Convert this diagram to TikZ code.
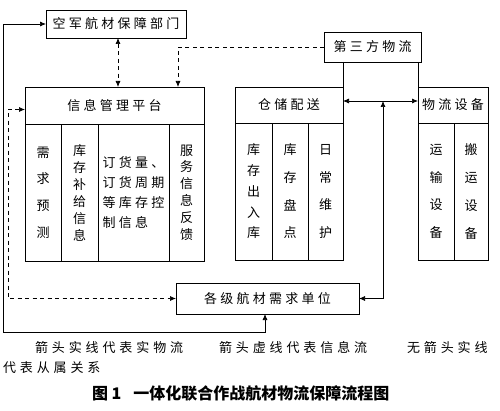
\documentclass[tikz,border=0pt]{standalone}
\usepackage{fontspec}
\usetikzlibrary{arrows.meta}
\newfontfamily\cjk[LetterSpace=25]{Noto Sans CJK SC}
\newfontfamily\cjkl[LetterSpace=30]{Noto Sans CJK SC}
\newfontfamily\cjkv{Noto Sans CJK SC}
\begin{document}
\begin{tikzpicture}[x=1pt,y=-1pt,
  every node/.style={inner sep=0pt, outer sep=0pt},
  boxfr/.style={draw, line width=0.7pt, anchor=north west},
  lbl/.style={font=\cjk\fontsize{13}{16}\selectfont},
  vert/.style={align=center, font=\cjkv\fontsize{13}{#1}\selectfont},
  legend/.style={anchor=west, font=\cjkl\fontsize{13}{16}\selectfont},
  ln/.style={line width=0.7pt},
  arr/.style={-{Latex[length=6pt,width=5pt]}},
  arrtwo/.style={{Latex[length=6pt,width=5pt]}-{Latex[length=6pt,width=5pt]}},
  dsh/.style={dash pattern=on 4pt off 3.5pt}
]
\useasboundingbox (0,0) rectangle (500,411);

% top boxes
\node[boxfr, lbl, minimum width=140pt, minimum height=28pt] (top) at (46,10) {空军航材保障部门};
\node[boxfr, lbl, minimum width=97pt, minimum height=30pt] (third) at (324,32) {第三方物流};

% information platform
\node[boxfr, lbl, minimum width=179pt, minimum height=37pt] (infohead) at (25,87) {信息管理平台};
\node[boxfr, vert=26.7, minimum width=36pt, minimum height=137pt] (ic1) at (25,124) {需\\求\\预\\测};
\node[boxfr, vert=17, minimum width=37pt, minimum height=137pt] (ic2) at (61,124) {库\\存\\补\\给\\信\\息};
\node[boxfr, align=left, font=\cjk\fontsize{13}{19.7}\selectfont, minimum width=71pt, minimum height=137pt] (ic3) at (98,124) {订货量、\\订货周期\\等库存控\\制信息};
\node[boxfr, vert=16.8, minimum width=35pt, minimum height=137pt] (ic4) at (169,124) {服\\务\\信\\息\\反\\馈};

% warehouse
\node[boxfr, lbl, minimum width=108pt, minimum height=36pt] (whhead) at (235,87) {仓储配送};
\node[boxfr, vert=20.75, minimum width=37pt, minimum height=137pt] (wc1) at (235,123) {库\\存\\出\\入\\库};
\node[boxfr, vert=27.7, minimum width=36pt, minimum height=137pt] (wc2) at (272,123) {库\\存\\盘\\点};
\node[boxfr, vert=27.7, minimum width=35pt, minimum height=137pt] (wc3) at (308,123) {日\\常\\维\\护};

% logistics equipment
\node[boxfr, lbl, minimum width=70pt, minimum height=36pt] (loghead) at (418,87) {物流设备};
\node[boxfr, vert=27.7, minimum width=36pt, minimum height=137pt] (lc1) at (418,123) {运\\输\\设\\备};
\node[boxfr, vert=27.7, minimum width=34pt, minimum height=137pt] (lc2) at (454,123) {搬\\运\\设\\备};

% bottom box
\node[boxfr, lbl, minimum width=183pt, minimum height=31pt] (bottom) at (176,283) {各级航材需求单位};

% connectors
\coordinate (lc) at (3,332);
\draw[ln,arrtwo] (top.west) -| (lc) -| ([xshift=-2.5pt]bottom.south);

\coordinate (dl) at (8,298.5);
\draw[ln,dsh,arrtwo] ([yshift=-4pt]infohead.west) -| (dl) -- (bottom.west);

\coordinate (dv) at (118,0);
\draw[ln,dsh,arrtwo] (top.south -| dv) -- (infohead.north -| dv);

\coordinate (dk) at (178,0);
\draw[ln,dsh,arr] (third.west) -| (infohead.north -| dk);

\draw[ln] (third.south -| whhead.north east) -- (whhead.north east);
\draw[ln] (third.south -| loghead.north west) -- (loghead.north west);

\draw[ln,arrtwo] ([yshift=4pt]whhead.east) -- ([yshift=4pt]loghead.west);
\coordinate (hm) at (383,101);
\draw[ln,arrtwo] (bottom.east) -| (hm);

% legend
\node[legend] (lg1) at (35,348) {箭头实线代表实物流};
\node[legend] (lg2) at (219,348) {箭头虚线代表信息流};
\node[legend] (lg3) at (407,348) {无箭头实线};
\node[legend] (lg4) at (3,368) {代表从属关系};

% caption
\node[anchor=west, font=\cjkv\bfseries\fontsize{16}{18}\selectfont] (cap) at (92,393) {图 1\hspace{12pt}一体化联合作战航材物流保障流程图};
\end{tikzpicture}
\end{document}
